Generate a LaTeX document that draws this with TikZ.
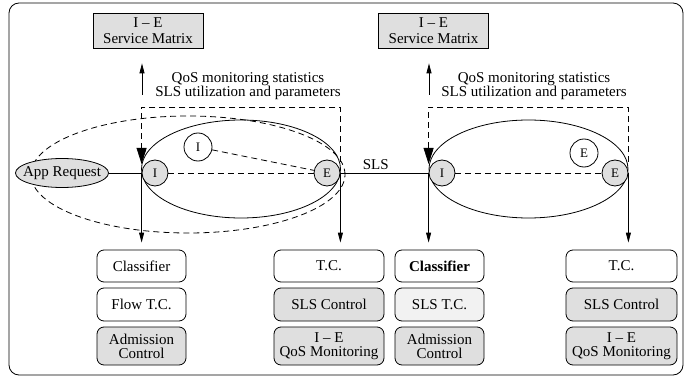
\documentclass[tikz,border=0pt]{standalone}
\usepackage{fontspec}
\setmainfont{Liberation Serif}
\usetikzlibrary{shapes.geometric,arrows.meta}

\begin{document}
\begin{tikzpicture}[x=1pt, y=1pt, line width=0.8pt,
    font=\fontsize{15}{14}\selectfont,
    dashed/.style={dash pattern=on 6pt off 4pt},
    router/.style={circle, draw, fill=gray!25, minimum size=26pt, inner sep=0pt, font=\fontsize{13}{13}\selectfont},
    agent/.style={circle, draw, fill=white, minimum size=28pt, inner sep=0pt, font=\fontsize{13}{13}\selectfont},
    svcbox/.style={rectangle, draw, fill=gray!25, minimum width=110pt, minimum height=35pt, align=center, font=\fontsize{15}{16}\selectfont},
    module/.style={rectangle, rounded corners=7pt, draw, align=center, inner sep=0pt},
    flow/.style={-{Triangle[length=10pt,width=5pt]}},
    report/.style={dashed, -{Triangle[length=16pt,width=10pt]}}]
    \useasboundingbox (0,0) rectangle (686,381);
    \draw[rounded corners=10pt] (9,6) rectangle (683,378);

    % domains
    \draw[dashed] (188,206.5) ellipse [x radius=157, y radius=58.5];
    \draw (241,212) ellipse [x radius=99.5, y radius=49];
    \draw (528.5,212) ellipse [x radius=99.5, y radius=49];

    \node[svcbox] (SM1) at (148,350.5) {I – E\\Service Matrix};
    \node[svcbox] (SM2) at (433.5,350.5) {I – E\\Service Matrix};
    \node[align=center, font=\fontsize{15}{12}\selectfont] (rep1) at (248,295) {QoS monitoring statistics\\SLS utilization and parameters};
    \node[align=center, font=\fontsize{15}{12}\selectfont] (rep2) at (534,295) {QoS monitoring statistics\\SLS utilization and parameters};

    \node[ellipse, draw, fill=gray!25, minimum width=93pt, minimum height=29pt, inner sep=0pt, label=center:App Request] (app) at (62,208) {};
    \node[router] (I1) at (155,208) {I};
    \node[router] (E1) at (327,208) {E};
    \node[router] (I2) at (442,208) {I};
    \node[router] (E2) at (615,208) {E};
    \node[agent] (aI) at (198,234) {I};
    \node[agent] (aE) at (584,228) {E};

    \node[module, minimum width=89pt, minimum height=32pt] (cls1) at (141.5,115) {Classifier};
    \node[module, minimum width=89pt, minimum height=33pt] (ftc1) at (141.5,76.5) {Flow T.C.};
    \node[module, minimum width=89pt, minimum height=38pt, fill=gray!25] (adm1) at (141.5,35) {Admission\\Control};
    \node[module, minimum width=110pt, minimum height=32pt] (tc1) at (329,115) {T.C.};
    \node[module, minimum width=110pt, minimum height=33pt, fill=gray!25] (slc1) at (329,76.5) {SLS Control};
    \node[module, minimum width=110pt, minimum height=38pt, fill=gray!25] (qm1) at (329,35) {I – E\\QoS Monitoring};
    \node[module, minimum width=89pt, minimum height=32pt, font=\fontsize{15}{14}\selectfont\bfseries] (cls2) at (439.5,115) {Classifier};
    \node[module, minimum width=89pt, minimum height=33pt, fill=gray!10] (stc2) at (439.5,76.5) {SLS T.C.};
    \node[module, minimum width=89pt, minimum height=38pt, fill=gray!25] (adm2) at (439.5,35) {Admission\\Control};
    \node[module, minimum width=111pt, minimum height=32pt] (tc2) at (621.5,115) {T.C.};
    \node[module, minimum width=111pt, minimum height=33pt, fill=gray!25] (slc2) at (621.5,76.5) {SLS Control};
    \node[module, minimum width=111pt, minimum height=38pt, fill=gray!25] (qm2) at (621.5,35) {I – E\\QoS Monitoring};

    \coordinate (top1) at (0,274);
    \coordinate (up1) at (142,286);
    \coordinate (up2) at (429,286);

    \draw (app) -- (I1);
    \draw[dashed] (I1) -- (E1);
    \draw[dashed] (aI) -- (E1);
    \draw (E1) -- node[above, pos=0.4] {SLS} (I2);
    \draw[dashed] (I2) -- (E2);

    \draw[report] ([yshift=11pt]E1.east) -- (E1.east |- top1) -- (I1.west |- top1) -- ([yshift=9pt]I1.west);
    \draw[report] ([yshift=11pt]E2.east) -- (E2.east |- top1) -- (I2.west |- top1) -- ([yshift=9pt]I2.west);
    \draw[flow, shorten >=15pt] (up1) -- (up1 |- SM1.south);
    \draw[flow, shorten >=15pt] (up2) -- (up2 |- SM2.south);

    \draw[flow, shorten >=7pt] (I1.west) -- (I1.west |- cls1.north);
    \draw[flow, shorten >=7pt] (E1.east) -- (E1.east |- tc1.north);
    \draw[flow, shorten >=7pt] (I2.west) -- (I2.west |- cls2.north);
    \draw[flow, shorten >=7pt] (E2.east) -- (E2.east |- tc2.north);
\end{tikzpicture}
\end{document}
